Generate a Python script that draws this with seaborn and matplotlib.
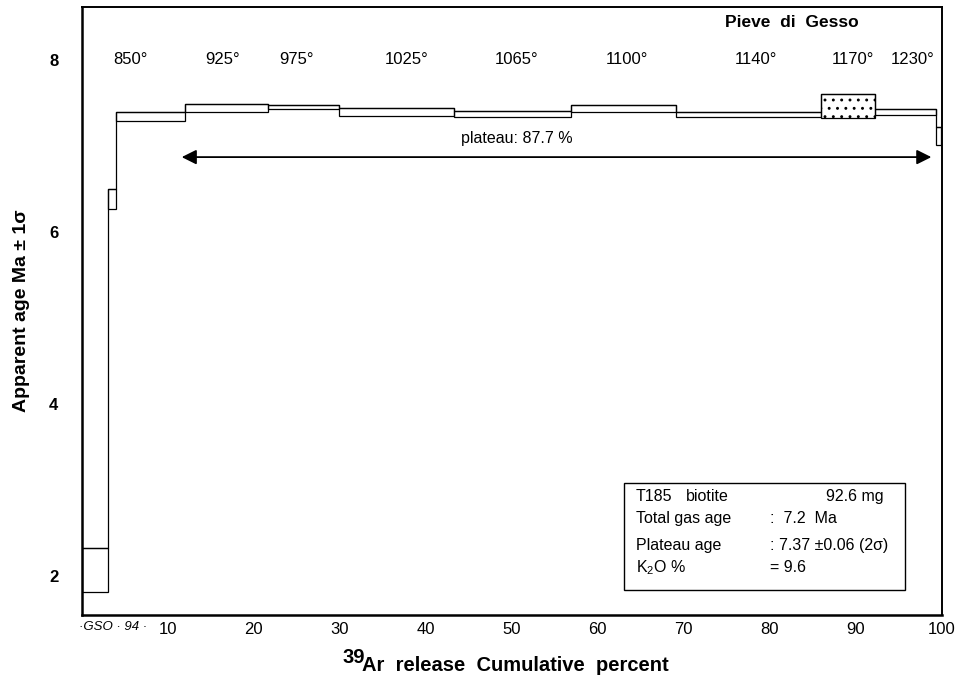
import numpy as np
import pandas as pd
import seaborn as sns
import matplotlib
matplotlib.use("Agg")
import matplotlib.pyplot as plt
from matplotlib.patches import Rectangle

# --- heating steps: cumulative % of 39Ar released and apparent age (Ma, +-1 sigma) ---
step_start = [0.0, 3.0, 4.0, 12.0, 21.6, 29.9, 43.3, 56.9, 69.1, 86.0, 92.2, 99.3]
step_end = [3.0, 4.0, 12.0, 21.6, 29.9, 43.3, 56.9, 69.1, 86.0, 92.2, 99.3, 99.9]
age_low = [1.81, 6.27, 7.29, 7.40, 7.43, 7.35, 7.34, 7.39, 7.34, 7.33, 7.36, 7.01]
age_high = [2.33, 6.50, 7.39, 7.49, 7.47, 7.44, 7.41, 7.47, 7.40, 7.60, 7.43, 7.22]
hatched_step = 9  # 1170 deg step drawn with a dotted fill

# temperature labels and their positions along the release axis
temp_labels = ["850°", "925°", "975°", "1025°", "1065°", "1100°", "1140°", "1170°", "1230°"]
temp_pos = [5.6, 16.3, 25.0, 37.8, 50.6, 63.4, 78.4, 89.7, 96.6]

# plateau span
plateau_from, plateau_to = 11.6, 98.8
plateau_text = "plateau: 87.7 %"

x_ticks = [10, 20, 30, 40, 50, 60, 70, 80, 90, 100]
y_ticks = [2, 4, 6, 8]

df = pd.DataFrame({"start": step_start, "end": step_end,
                   "low": age_low, "high": age_high})

sns.set_theme(style="white")
plt.rcParams["font.family"] = ["Liberation Sans", "DejaVu Sans"]
plt.rcParams["mathtext.fontset"] = "custom"
plt.rcParams["mathtext.rm"] = "Liberation Sans"
plt.rcParams["mathtext.bf"] = "Liberation Sans:bold"
plt.rcParams["mathtext.it"] = "Liberation Sans:italic"
plt.rcParams["hatch.linewidth"] = 0.9
for key in ["text.color", "axes.labelcolor", "xtick.color", "ytick.color"]:
    plt.rcParams[key] = "black"

fig = plt.figure(figsize=(9.67, 6.84), dpi=100)
ax = fig.add_axes([0.0848, 0.1009, 0.889, 0.889])

# upper envelope as a step line (also draws the jumps between steps)
top_x = list(df["start"]) + [df["end"].iloc[-1]]
top_y = list(df["high"]) + [df["high"].iloc[-1]]
sns.lineplot(x=top_x, y=top_y, ax=ax, drawstyle="steps-post",
             color="black", linewidth=0.9, sort=False, estimator=None)

# each heating step as an open box spanning its +-1 sigma interval
for i, row in df.iterrows():
    ax.add_patch(Rectangle((row["start"], row["low"]), row["end"] - row["start"],
                           row["high"] - row["low"], fill=False,
                           edgecolor="black", linewidth=0.9,
                           hatch=".." if i == hatched_step else None))

# temperature annotations
for lab, xp in zip(temp_labels, temp_pos):
    ax.text(xp, 8.0, lab, ha="center", va="center", fontsize=12)

ax.text(82.6, 8.44, "Pieve  di  Gesso", ha="center", va="center",
        fontsize=12.5, fontweight="bold")

# plateau arrow
ax.annotate("", xy=(plateau_to, 6.87), xytext=(plateau_from, 6.87),
            arrowprops=dict(arrowstyle="<|-|>", color="black", lw=1.3,
                            mutation_scale=22, shrinkA=0, shrinkB=0))
ax.text(50.6, 7.09, plateau_text, ha="center", va="center", fontsize=11.5)

# sample info box
ax.add_patch(Rectangle((63.1, 1.84), 32.6, 1.24, fill=False,
                       edgecolor="black", linewidth=1.0))
info_fs = 11.5
ax.text(64.4, 2.93, "T185", fontsize=info_fs, va="center")
ax.text(70.3, 2.93, "biotite", fontsize=info_fs, va="center")
ax.text(86.6, 2.93, "92.6 mg", fontsize=info_fs, va="center")
ax.text(64.4, 2.67, "Total gas age", fontsize=info_fs, va="center")
ax.text(80.0, 2.67, ":  7.2  Ma", fontsize=info_fs, va="center")
ax.text(64.4, 2.36, "Plateau age", fontsize=info_fs, va="center")
ax.text(80.0, 2.36, ": 7.37 ±0.06 (2σ)", fontsize=info_fs, va="center")
ax.text(64.4, 2.10, r"K$_2$O %", fontsize=info_fs, va="center")
ax.text(80.0, 2.10, "= 9.6", fontsize=info_fs, va="center")

# axes
ax.set_xlim(0, 100)
ax.set_ylim(1.547, 8.616)
ax.set_xticks(x_ticks)
ax.set_xticklabels([str(t) for t in x_ticks], fontsize=12)
ax.set_yticks(y_ticks)
ax.set_yticklabels([str(t) for t in y_ticks], fontsize=12, fontweight="bold")
ax.tick_params(axis="both", direction="in", length=6, width=1.5, colors="black")
ax.tick_params(axis="x", pad=5)
ax.tick_params(axis="y", pad=17)
for side in ["left", "bottom", "top", "right"]:
    ax.spines[side].set_visible(True)
    ax.spines[side].set_color("black")
ax.spines["left"].set_linewidth(1.8)
ax.spines["bottom"].set_linewidth(1.8)
ax.spines["top"].set_linewidth(1.4)
ax.spines["right"].set_linewidth(1.4)

ax.set_ylabel("Apparent age Ma ± 1σ", fontsize=14, fontweight="bold", labelpad=14)

# x axis title with a full-size raised isotope mass number
ax.text(0.3035, -0.070, "39", transform=ax.transAxes, fontsize=14.5,
        fontweight="bold", ha="left", va="center")
ax.text(0.3256, -0.083, "Ar  release  Cumulative  percent", transform=ax.transAxes,
        fontsize=14.5, fontweight="bold", ha="left", va="center")

ax.text(-0.004, -0.010, "·GSO · 94 ·", transform=ax.transAxes, fontsize=9.5,
        fontstyle="italic", ha="left", va="top")

fig.savefig("out.png", dpi=100, facecolor="white")
